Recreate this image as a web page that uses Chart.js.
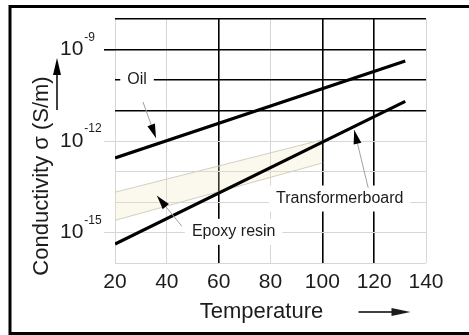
<!DOCTYPE html>
<html><head><meta charset="utf-8">
<script src="https://cdn.jsdelivr.net/npm/chart.js@4/dist/chart.umd.min.js"></script>
<style>html,body{margin:0;padding:0;background:#fff}canvas{display:block}</style>
</head><body>
<canvas id="c" width="469" height="335"></canvas>
<script>
// ---- data ----
const temperatureTicks = [20, 40, 60, 80, 100, 120, 140];
const conductivityDecades = [1e-16, 1e-15, 1e-14, 1e-13, 1e-12, 1e-11, 1e-10, 1e-9, 1e-8];
const labeledDecades = [1e-9, 1e-12, 1e-15];
const boldTemperatures = [60, 100, 120];
const boldDecades = [1e-8, 1e-9, 1e-10, 1e-11];

const oilTemps = [20, 132];
const oilSigma = [2.8e-13, 4.2e-10];
const boardTemps = [20, 132];
const boardSigma = [4.2e-16, 2.0e-11];
const epoxyTemps = [20, 100];
const epoxyLow = [2.5e-15, 1.9e-13];
const epoxyHigh = [2.1e-14, 1.1e-12];

const seriesNames = ['Oil', 'Transformerboard', 'Epoxy resin'];
const xTitle = 'Temperature';
const yTitle = 'Conductivity σ (S/m)';

// annotation anchors in data coordinates
const labelAnchors = [
  { text: seriesNames[0], x: 28.5, y: 1e-10, from: [30.8, 1.9e-11], to: [35.8, 1.26e-12] },
  { text: seriesNames[2], x: 65.8, y: 1.05e-15, from: [45.8, 1.6e-15], to: [36.2, 1.6e-14] },
  { text: seriesNames[1], x: 106.7, y: 1.3e-14, from: [117.7, 2.9e-14], to: [112.3, 2.3e-12] }
];

const pts = (xs, ys) => xs.map((x, i) => ({ x, y: ys[i] }));
const FONT = '"Liberation Sans", Arial, Helvetica, sans-serif';
const TEXT = '#1c1c1c';
const LIGHT = '#d6d6d6';
const exp10 = v => Math.round(Math.log10(v));
const isBoldY = v => boldDecades.some(d => exp10(d) === exp10(v));

function arrowHead(ctx, x1, y1, x2, y2, len, half) {
  const a = Math.atan2(y2 - y1, x2 - x1);
  ctx.beginPath();
  ctx.moveTo(x2, y2);
  ctx.lineTo(x2 - len * Math.cos(a) + half * Math.sin(a), y2 - len * Math.sin(a) - half * Math.cos(a));
  ctx.lineTo(x2 - len * Math.cos(a) - half * Math.sin(a), y2 - len * Math.sin(a) + half * Math.cos(a));
  ctx.closePath();
  ctx.fill();
}

const decorPlugin = {
  id: 'decor',
  afterDatasetsDraw(chart) {
    const { ctx, chartArea: ca, scales: { x, y } } = chart;
    ctx.save();
    // label boxes + arrows
    ctx.font = '16px ' + FONT;
    labelAnchors.forEach(a => {
      const px = x.getPixelForValue(a.x), py = y.getPixelForValue(a.y);
      const w = ctx.measureText(a.text).width;
      ctx.fillStyle = '#fff';
      ctx.fillRect(px - w / 2 - 7, py - 13, w + 14, 26);
      ctx.fillStyle = TEXT;
      ctx.textAlign = 'center';
      ctx.textBaseline = 'middle';
      ctx.fillText(a.text, px, py);
      const x1 = x.getPixelForValue(a.from[0]), y1 = y.getPixelForValue(a.from[1]);
      const x2 = x.getPixelForValue(a.to[0]), y2 = y.getPixelForValue(a.to[1]);
      ctx.strokeStyle = '#a0a0a0';
      ctx.lineWidth = 1;
      ctx.beginPath(); ctx.moveTo(x1, y1); ctx.lineTo(x2, y2); ctx.stroke();
      ctx.fillStyle = '#000';
      arrowHead(ctx, x1, y1, x2, y2, 14, 4);
    });
    // y tick labels with superscripts
    labeledDecades.forEach(v => {
      const py = y.getPixelForValue(v);
      ctx.fillStyle = TEXT;
      ctx.textAlign = 'left';
      ctx.textBaseline = 'middle';
      ctx.font = '21px ' + FONT;
      ctx.fillText('10', ca.left - 55, py);
      const w = ctx.measureText('10').width;
      ctx.font = '12px ' + FONT;
      ctx.fillText('-' + Math.abs(exp10(v)), ca.left - 55 + w + 1, py - 12);
    });
    // y title
    const ty = (ca.top + ca.bottom) / 2 + 35;
    ctx.save();
    ctx.translate(ca.left - 73, ty);
    ctx.rotate(-Math.PI / 2);
    ctx.font = '22px ' + FONT;
    ctx.fillStyle = TEXT;
    ctx.textAlign = 'center';
    ctx.textBaseline = 'middle';
    ctx.fillText(yTitle, 0, 0);
    ctx.restore();
    ctx.strokeStyle = '#000';
    ctx.fillStyle = '#000';
    ctx.lineWidth = 1.5;
    const ax = ca.left - 58;
    ctx.beginPath(); ctx.moveTo(ax, ty - 66); ctx.lineTo(ax, ty - 110); ctx.stroke();
    arrowHead(ctx, ax, ty - 66, ax, ty - 118, 17, 4);
    // x title
    const tx = (ca.left + ca.right) / 2 - 9, txy = ca.bottom + 49;
    ctx.font = '22px ' + FONT;
    ctx.fillStyle = TEXT;
    ctx.textAlign = 'center';
    ctx.textBaseline = 'middle';
    ctx.fillText(xTitle, tx, txy);
    ctx.beginPath(); ctx.moveTo(tx + 97, txy); ctx.lineTo(tx + 140, txy); ctx.stroke();
    arrowHead(ctx, tx + 97, txy, tx + 149, txy, 19, 4);
    // frame
    ctx.lineWidth = 3;
    ctx.strokeStyle = '#000';
    ctx.strokeRect(10, 6.5, 520, 327);
    ctx.restore();
  }
};

new Chart(document.getElementById('c'), {
  type: 'line',
  data: {
    datasets: [
      { label: seriesNames[0], data: pts(oilTemps, oilSigma), borderColor: '#000', borderWidth: 3.2, pointRadius: 0, fill: false, tension: 0 },
      { label: seriesNames[1], data: pts(boardTemps, boardSigma), borderColor: '#000', borderWidth: 3.2, pointRadius: 0, fill: false, tension: 0 },
      { label: seriesNames[2] + ' low', data: pts(epoxyTemps, epoxyLow), borderColor: '#d4cebe', borderWidth: 1, pointRadius: 0, fill: false, tension: 0 },
      { label: seriesNames[2] + ' high', data: pts(epoxyTemps, epoxyHigh), borderColor: '#d4cebe', borderWidth: 1, pointRadius: 0, fill: '-1', backgroundColor: 'rgba(238,226,185,0.24)', tension: 0 }
    ]
  },
  options: {
    responsive: false,
    animation: false,
    events: [],
    layout: { padding: { top: 19, right: 43, left: 0, bottom: 0 } },
    plugins: { legend: { display: false }, tooltip: { enabled: false } },
    scales: {
      x: {
        type: 'linear', min: 20, max: 140,
        afterBuildTicks: s => { s.ticks = temperatureTicks.map(v => ({ value: v })); },
        afterFit: s => { s.height = 72; },
        border: { display: false },
        grid: {
          drawTicks: false,
          color: c => boldTemperatures.includes(c.tick.value) ? '#000' : LIGHT,
          lineWidth: c => boldTemperatures.includes(c.tick.value) ? 1.6 : 1
        },
        ticks: { color: TEXT, padding: 7, font: { size: 21, family: FONT }, maxRotation: 0 }
      },
      y: {
        type: 'logarithmic', min: 1e-16, max: 1e-8,
        afterBuildTicks: s => { s.ticks = conductivityDecades.map(v => ({ value: v })); },
        afterFit: s => { s.width = 115; },
        border: { display: false },
        grid: {
          drawTicks: true,
          tickLength: 11,
          color: c => isBoldY(c.tick.value) ? '#000' : LIGHT,
          lineWidth: c => isBoldY(c.tick.value) ? 1.6 : 1,
          tickColor: c => labeledDecades.some(d => exp10(d) === exp10(c.tick.value)) ? (isBoldY(c.tick.value) ? '#000' : LIGHT) : 'rgba(0,0,0,0)',
          tickWidth: c => isBoldY(c.tick.value) ? 1.6 : 1
        },
        ticks: { callback: () => '', padding: 0 }
      }
    }
  },
  plugins: [decorPlugin]
});
</script>
</body></html>
